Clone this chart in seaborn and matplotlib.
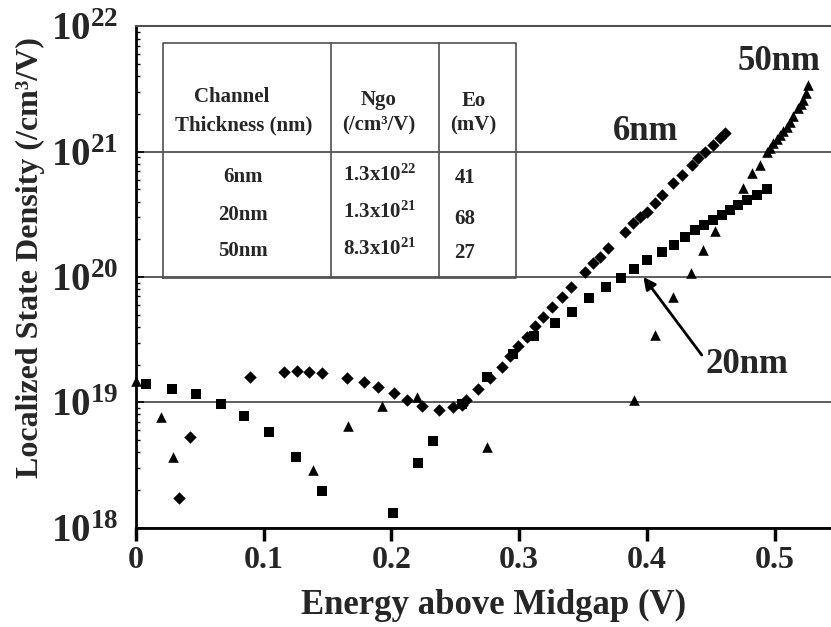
import numpy as np
import pandas as pd
import seaborn as sns
import matplotlib.pyplot as plt

# ---------------- data ----------------
x_6nm = [0.0334, 0.0423, 0.0893, 0.1159, 0.1258, 0.1357, 0.1457, 0.1652, 0.1783,
         0.1892, 0.2020, 0.2122, 0.2243, 0.2373, 0.2480, 0.2550, 0.2584, 0.2680,
         0.2770, 0.2864, 0.2930, 0.2994, 0.3059, 0.3124, 0.3190, 0.3255, 0.3334,
         0.3404, 0.3516, 0.3581, 0.3634, 0.3699, 0.3829, 0.3894, 0.3947, 0.3999,
         0.4064, 0.4117, 0.4208, 0.4273, 0.4352, 0.4403, 0.4456, 0.4521, 0.4573,
         0.4612]
y_6nm = [1.73e18, 5.31e18, 1.58e19, 1.73e19, 1.78e19, 1.73e19, 1.71e19, 1.57e19, 1.45e19,
         1.32e19, 1.18e19, 1.04e19, 9.33e18, 8.71e18, 9.12e18, 9.51e18, 1.04e19, 1.28e19,
         1.55e19, 1.92e19, 2.34e19, 2.81e19, 3.34e19, 4.06e19, 4.82e19, 5.73e19, 6.97e19,
         8.38e19, 1.10e20, 1.29e20, 1.45e20, 1.69e20, 2.30e20, 2.69e20, 3.03e20, 3.32e20,
         3.87e20, 4.52e20, 5.66e20, 6.52e20, 7.83e20, 8.85e20, 1.00e21, 1.13e21, 1.28e21,
         1.40e21]

x_20nm = [0.0076, 0.0285, 0.0467, 0.0666, 0.0848, 0.1039, 0.1253, 0.1457, 0.2010,
          0.2211, 0.2328, 0.2555, 0.2751, 0.2955, 0.3117, 0.3281, 0.3417, 0.3550,
          0.3680, 0.3795, 0.3900, 0.3999, 0.4117, 0.4213, 0.4299, 0.4377, 0.4448,
          0.4521, 0.4586, 0.4652, 0.4717, 0.4782, 0.4861, 0.4939]
y_20nm = [1.39e19, 1.27e19, 1.16e19, 9.64e18, 7.78e18, 5.79e18, 3.64e18, 1.97e18, 1.32e18,
          3.30e18, 4.91e18, 9.77e18, 1.58e19, 2.43e19, 3.38e19, 4.32e19, 5.28e19, 6.76e19,
          8.28e19, 9.77e19, 1.15e20, 1.37e20, 1.59e20, 1.80e20, 2.07e20, 2.37e20, 2.60e20,
          2.85e20, 3.13e20, 3.43e20, 3.76e20, 4.12e20, 4.52e20, 5.01e20]

x_50nm = [0.0000, 0.0196, 0.0292, 0.1383, 0.1658, 0.1929, 0.2203, 0.2746, 0.3902,
          0.4064, 0.4208, 0.4346, 0.4443, 0.4534, 0.4750, 0.4821, 0.4886, 0.4939,
          0.4965, 0.4991, 0.5017, 0.5043, 0.5070, 0.5096, 0.5122, 0.5148, 0.5187,
          0.5207, 0.5226, 0.5245, 0.5265]
y_50nm = [1.48e19, 7.67e18, 3.64e18, 2.88e18, 6.50e18, 9.40e18, 1.11e19, 4.43e18, 1.04e19,
          3.44e19, 6.97e19, 1.08e20, 1.64e20, 2.32e20, 5.13e20, 6.73e20, 7.83e20, 1.00e21,
          1.07e21, 1.17e21, 1.26e21, 1.36e21, 1.46e21, 1.58e21, 1.74e21, 1.91e21, 2.22e21,
          2.40e21, 2.59e21, 2.95e21, 3.40e21]

x_ticks = [0, 0.1, 0.2, 0.3, 0.4, 0.5]
x_tick_labels = ['0', '0.1', '0.2', '0.3', '0.4', '0.5']
y_ticks = [1e18, 1e19, 1e20, 1e21, 1e22]
y_tick_labels = [r'$\mathbf{10^{18}}$', r'$\mathbf{10^{19}}$', r'$\mathbf{10^{20}}$',
                 r'$\mathbf{10^{21}}$', r'$\mathbf{10^{22}}$']

table_header_1 = ['Channel', 'Ngo', 'Eo']
table_header_2 = ['Thickness (nm)', '(/cm\u00b3/V)', '(mV)']
table_thickness = ['6nm', '20nm', '50nm']
table_ngo = [r'$\mathbf{1.3x10^{22}}$', r'$\mathbf{1.3x10^{21}}$', r'$\mathbf{8.3x10^{21}}$']
table_eo = ['41', '68', '27']

# ---------------- style ----------------
sns.set_theme(style='white')
plt.rcParams['font.family'] = ['Liberation Serif', 'DejaVu Serif']
plt.rcParams['font.weight'] = 'bold'
plt.rcParams['mathtext.fontset'] = 'custom'
plt.rcParams['mathtext.rm'] = 'Liberation Serif:bold'
plt.rcParams['mathtext.bf'] = 'Liberation Serif:bold'
plt.rcParams['mathtext.it'] = 'Liberation Serif:bold'

df = pd.concat([
    pd.DataFrame({'x': x_6nm, 'y': y_6nm, 'series': '6nm'}),
    pd.DataFrame({'x': x_20nm, 'y': y_20nm, 'series': '20nm'}),
    pd.DataFrame({'x': x_50nm, 'y': y_50nm, 'series': '50nm'}),
], ignore_index=True)

fig = plt.figure(figsize=(8.31, 6.27), dpi=100)
ax = fig.add_axes([0.1637, 0.1585, 0.8363, 0.7994])

marker_spec = {'6nm': ('D', 40), '20nm': ('s', 55), '50nm': ('^', 58)}
for name, (mk, sz) in marker_spec.items():
    sns.scatterplot(data=df[df['series'] == name], x='x', y='y', marker=mk, s=sz,
                    color='black', edgecolor='black', linewidth=0, ax=ax,
                    legend=False, zorder=3, clip_on=False)

ax.set_yscale('log')
ax.set_xlim(0, 0.5442)
ax.set_ylim(1e18, 1e22)

ax.set_xticks(x_ticks)
ax.set_xticklabels(x_tick_labels)
ax.set_yticks(y_ticks)
ax.set_yticklabels(y_tick_labels)

ax.yaxis.grid(True, which='major', color='#505050', lw=1.3)
ax.xaxis.grid(False)
ax.set_axisbelow(True)

for s in ['left', 'bottom']:
    ax.spines[s].set_color('black')
    ax.spines[s].set_linewidth(2)
ax.spines['top'].set_color('#505050')
ax.spines['top'].set_linewidth(1.5)
ax.spines['right'].set_visible(False)

ax.tick_params(axis='x', which='major', bottom=True, direction='out', length=9,
               width=2.5, labelsize=23, pad=4, color='black')
ax.tick_params(axis='y', which='major', left=True, direction='in', length=6,
               width=1.2, labelsize=28, pad=13, color='black')
ax.tick_params(axis='y', which='minor', left=True, direction='in', length=3,
               width=1.0, color='black')

ax.set_xlabel('')
ax.set_ylabel('')
fig.text(494 / 831, 1 - 605 / 627, 'Energy above Midgap (V)', ha='center', va='center',
         fontsize=25, fontweight='bold')
fig.text(30 / 831, 1 - 258 / 627, 'Localized State Density (/cm\u00b3/V)', ha='center',
         va='center', rotation=90, fontsize=23, fontweight='bold')

# ---------------- inset table ----------------
tl, tr, tt, tb = 0.0393, 0.5463, 0.9675, 0.4987
tc = '#505050'
ax.plot([tl, tr, tr, tl, tl], [tb, tb, tt, tt, tb], transform=ax.transAxes,
        color=tc, lw=1.2, zorder=2)
for xd in [0.2806, 0.4364]:
    ax.plot([xd, xd], [tb, tt], transform=ax.transAxes, color=tc, lw=1.2, zorder=2)

tfs = 15
col_x = [0.1544, 0.3486, 0.4853]
ax.text(0.1377, 0.8588, table_header_1[0], transform=ax.transAxes, ha='center',
        va='center', fontsize=tfs, fontweight='bold')
ax.text(col_x[1], 0.8532, table_header_1[1], transform=ax.transAxes, ha='center',
        va='center', fontsize=tfs, fontweight='bold')
ax.text(col_x[2], 0.8512, table_header_1[2], transform=ax.transAxes, ha='center',
        va='center', fontsize=tfs, fontweight='bold')
for cx, txt in zip(col_x, table_header_2):
    ax.text(cx, 0.8033, txt, transform=ax.transAxes, ha='center', va='center',
            fontsize=tfs, fontweight='bold')

row_y = [0.7001, 0.6244, 0.5510]
eo_y = [0.6975, 0.6157, 0.5484]
for i in range(3):
    ax.text(0.1544, row_y[i], table_thickness[i], transform=ax.transAxes, ha='center',
            va='center', fontsize=tfs, fontweight='bold')
    ax.text(0.3510, row_y[i] + 0.004, table_ngo[i], transform=ax.transAxes, ha='center',
            va='center', fontsize=tfs)
    ax.text(0.4730, eo_y[i], table_eo[i], transform=ax.transAxes, ha='center',
            va='center', fontsize=tfs, fontweight='bold')

# ---------------- curve labels ----------------
ax.text(0.3992, 10 ** 21.16, '6nm', ha='center', va='center', fontsize=25,
        fontweight='bold')
ax.text(0.5035, 10 ** 21.718, '50nm', ha='center', va='center', fontsize=25,
        fontweight='bold')
ax.annotate('', xy=(0.3973, 1.0e20), xytext=(0.4430, 10 ** 19.377),
            arrowprops=dict(arrowstyle='-|>', color='black', lw=2, mutation_scale=18,
                            shrinkA=0, shrinkB=0))
ax.text(0.4782, 10 ** 19.298, '20nm', ha='center', va='center', fontsize=25,
        fontweight='bold')

fig.savefig('out.png', dpi=100)
